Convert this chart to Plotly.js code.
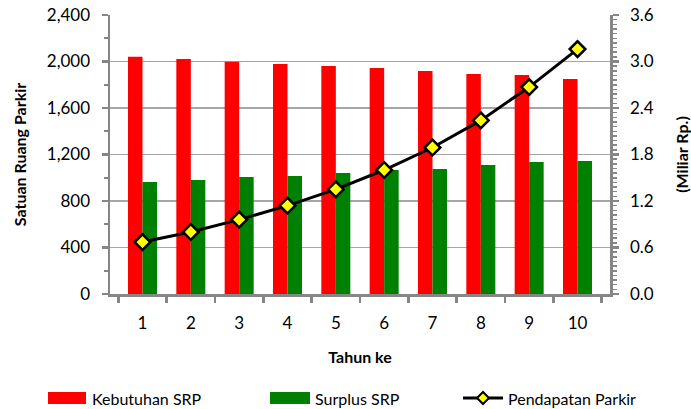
<!DOCTYPE html>
<html>
<head>
<meta charset="utf-8">
<script src="https://cdn.plot.ly/plotly-3.0.1.min.js"></script>
<style>html,body{margin:0;padding:0;background:#fff;}#chart{width:691px;height:409px;}</style>
</head>
<body>
<div id="chart"></div>
<script>
const years = ['1','2','3','4','5','6','7','8','9','10'];
const kebutuhanSRP = [2040, 2022, 1998, 1978, 1961, 1944, 1918, 1892, 1884, 1849];
const surplusSRP = [963, 981, 1006, 1015, 1041, 1067, 1075, 1110, 1135, 1144];
const pendapatanParkir = [0.67, 0.80, 0.96, 1.14, 1.35, 1.60, 1.89, 2.24, 2.67, 3.16];
const seriesNames = ['Kebutuhan SRP', 'Surplus SRP', 'Pendapatan Parkir'];

const W = 691, H = 409, ML = 110, MR = 81, MT = 15, MB = 115;
const PW = W - ML - MR, PH = H - MT - MB;
const px = v => (v - ML) / PW;          // pixel -> paper x
const py = v => (H - MB - v) / PH;      // pixel -> paper y

const fontFam = 'Lato, "Open Sans", sans-serif';
const axisGray = '#868686';
const data = [
  {type:'bar', name:seriesNames[0], x:years, y:kebutuhanSRP, marker:{color:'#ff0000'}},
  {type:'bar', name:seriesNames[1], x:years, y:surplusSRP, marker:{color:'#008000'}},
  {type:'scatter', mode:'lines+markers', name:seriesNames[2], x:years, y:pendapatanParkir, yaxis:'y2',
   line:{color:'#000', width:3}, cliponaxis:false,
   marker:{symbol:'diamond', size:12, color:'#ffff00', line:{color:'#000', width:2.5}}}
];

// manual legend (wide swatches like the original)
const legY = 398;
const shapes = [
  {type:'rect', xref:'paper', yref:'paper', x0:px(48), x1:px(86), y0:py(legY+6), y1:py(legY-6), fillcolor:'#ff0000', line:{width:0}},
  {type:'rect', xref:'paper', yref:'paper', x0:px(270), x1:px(310), y0:py(legY+6), y1:py(legY-6), fillcolor:'#008000', line:{width:0}},
  {type:'line', xref:'paper', yref:'paper', x0:px(463), x1:px(503), y0:py(legY), y1:py(legY), line:{color:'#000', width:3}},
  {type:'path', xref:'paper', yref:'paper',
   path:`M ${px(477)} ${py(legY)} L ${px(483)} ${py(legY-6)} L ${px(489)} ${py(legY)} L ${px(483)} ${py(legY+6)} Z`,
   fillcolor:'#ffff00', line:{color:'#000', width:2}}
];
const annotations = [
  {xref:'paper', yref:'paper', x:px(90), y:py(legY), xanchor:'left', yanchor:'middle', text:seriesNames[0], showarrow:false, font:{size:16}},
  {xref:'paper', yref:'paper', x:px(313), y:py(legY), xanchor:'left', yanchor:'middle', text:seriesNames[1], showarrow:false, font:{size:16}},
  {xref:'paper', yref:'paper', x:px(506), y:py(legY), xanchor:'left', yanchor:'middle', text:seriesNames[2], showarrow:false, font:{size:16}}
];

const layout = {
  width:W, height:H,
  margin:{l:ML, r:MR, t:MT, b:MB},
  paper_bgcolor:'#fff', plot_bgcolor:'#fff',
  font:{family:fontFam, size:17, color:'#000'},
  barmode:'group', bargap:0.4, bargroupgap:0,
  showlegend:false,
  shapes:shapes, annotations:annotations,
  xaxis:{type:'category', showline:true, linecolor:axisGray, linewidth:2.5, ticks:'outside', tickson:'boundaries',
    ticklen:6, tickcolor:axisGray, tickwidth:2.5, showgrid:false, zeroline:false, ticklabelstandoff:12,
    title:{text:'<b>Tahun ke</b>', font:{size:16}, standoff:20}},
  yaxis:{range:[0,2400], dtick:400, tickformat:',d', showline:true, linecolor:axisGray, linewidth:2.5,
    ticks:'outside', ticklen:6, tickcolor:axisGray, tickwidth:2.5, ticklabelstandoff:8,
    minor:{dtick:200, ticks:'outside', ticklen:4, tickcolor:axisGray, tickwidth:2, showgrid:false},
    showgrid:true, gridcolor:'#a6a6a6', gridwidth:1.5, zeroline:false,
    title:{text:'<b>Satuan Ruang Parkir</b>', font:{size:16}, standoff:16}},
  yaxis2:{overlaying:'y', side:'right', range:[0,3.6], dtick:0.6, tickformat:'.1f', showline:true, linecolor:axisGray, linewidth:2.5,
    ticks:'outside', ticklen:6, tickcolor:axisGray, tickwidth:2.5, ticklabelstandoff:8,
    minor:{dtick:0.06, ticks:'outside', ticklen:4, tickcolor:axisGray, tickwidth:1.5, showgrid:false},
    showgrid:false, zeroline:false,
    title:{text:'<b>(Miliar Rp.)</b>', font:{size:16}, standoff:24}}
};
Plotly.newPlot('chart', data, layout, {displayModeBar:false, staticPlot:true});
</script>
</body>
</html>
